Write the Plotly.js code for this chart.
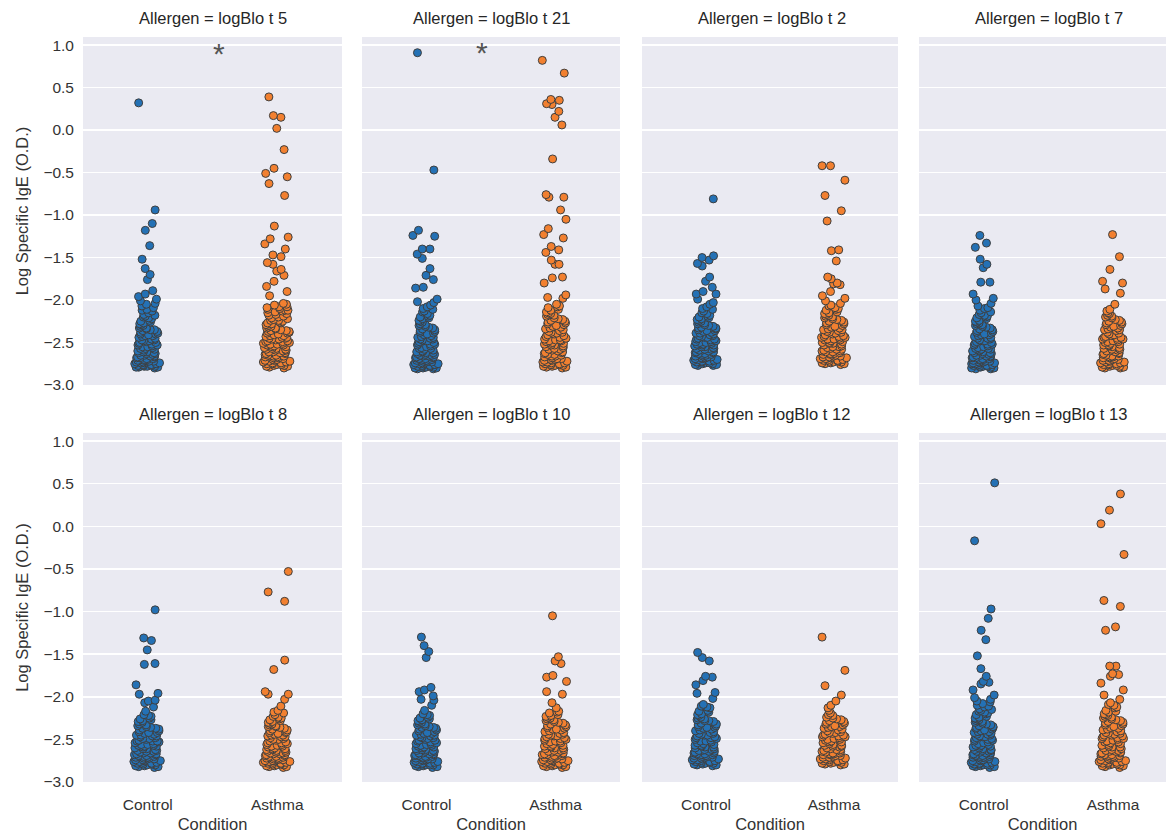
<!DOCTYPE html>
<html>
<head>
<meta charset="utf-8">
<script src="https://cdn.plot.ly/plotly-3.0.1.min.js"></script>
<style>html,body{margin:0;padding:0;background:#fff;}#chart{width:1166px;height:835px;}</style>
</head>
<body>
<div id="chart"></div>
<script>
// ---------- DATA ----------
const allergens = ['logBlo t 5', 'logBlo t 21', 'logBlo t 2', 'logBlo t 7',
                   'logBlo t 8', 'logBlo t 10', 'logBlo t 12', 'logBlo t 13'];
const conditions = ['Control', 'Asthma'];
const yTicks = [-3.0, -2.5, -2.0, -1.5, -1.0, -0.5, 0.0, 0.5, 1.0];

const t5_control = [0.32,-0.94,-1.10,-1.18,-1.36,-1.52,-1.63,-1.70,-1.76,-1.89,
 -1.93,-1.96,-1.99,-2.01,-2.04,-2.05,-2.09,-2.12,-2.13,-2.17,-2.19,-2.22,-2.24,-2.27,-2.29,-2.30,-2.33,-2.35,-2.36,-2.39,
 -2.40,-2.42,-2.44,-2.45,-2.47,-2.48,-2.50,-2.52,-2.53,-2.54,-2.56,-2.57,-2.58,-2.60,-2.61,-2.62,-2.63,-2.64,-2.66,-2.66,
 -2.67,-2.68,-2.69,-2.70,-2.71,-2.72,-2.72,-2.73,-2.74,-2.75,-2.75,-2.76,-2.77,-2.77,-2.78,-2.79,-2.79,-2.80,-2.46,-2.51,
 -2.57,-2.63,-2.68,-2.71,-2.73,-2.76,-2.78,-2.34,-2.41,-2.55,-2.61,-2.65,-2.69,-2.74,-2.77,-2.79,-2.26,-2.48,-2.59,-2.65,
 -2.72,-2.38,-2.55,-2.67,-2.74,-2.62,-2.70,-2.78,
 -2.07,-2.11,-2.15,-2.18,-2.21,-2.25,-2.28,-2.31,-2.33,-2.37,-2.40,-2.43,-2.47,-2.50,-2.53,-2.20,-2.35,-2.42,-2.49];
const t5_asthma = [0.39,0.17,0.15,0.02,-0.23,-0.45,-0.51,-0.55,-0.63,-0.77,-1.13,-1.26,-1.28,-1.34,-1.40,-1.47,-1.49,-1.56,
 -1.58,-1.64,-1.66,-1.71,-1.78,-1.84,-1.90,-1.95,
 -2.04,-2.06,-2.08,-2.09,-2.11,-2.13,-2.14,-2.16,-2.18,-2.21,-2.22,-2.24,-2.26,-2.27,-2.29,-2.31,-2.33,-2.34,-2.36,-2.37,
 -2.39,-2.40,-2.42,-2.43,-2.45,-2.46,-2.47,-2.49,-2.50,-2.51,-2.52,-2.53,-2.55,-2.56,-2.57,-2.58,-2.59,-2.60,-2.61,-2.62,
 -2.63,-2.64,-2.65,-2.66,-2.67,-2.68,-2.69,-2.70,-2.71,-2.72,-2.73,-2.74,-2.75,-2.76,-2.77,-2.78,-2.79,-2.10,-2.19,-2.28,
 -2.35,-2.44,-2.48,-2.54,-2.59,-2.63,-2.66,-2.70,-2.74,-2.77,-2.80,-2.15,-2.32,-2.41,-2.52,-2.57,-2.62,-2.68,-2.72,-2.76,
 -2.25,-2.38,-2.49,-2.55,-2.61,-2.65,-2.71,-2.75,-2.78,-2.46,-2.58,-2.67,-2.73,
 -2.05,-2.08,-2.12,-2.17,-2.20,-2.23,-2.27,-2.30,-2.33,-2.36,-2.39,-2.42,-2.45,-2.48,-2.51,-2.12,-2.24,-2.37,-2.44,-2.53];

const t21_control = [0.91,-0.47,-1.18,-1.24,-1.25,-1.40,-1.40,-1.46,-1.51,-1.63,-1.71,-1.76,-1.85,-1.86,-1.99,-2.02,-2.03,
 -2.08,-2.11,-2.13,-2.16,-2.19,-2.21,-2.24,-2.26,-2.29,-2.31,-2.33,-2.36,-2.38,-2.40,-2.42,-2.43,-2.45,-2.47,-2.48,-2.50,
 -2.51,-2.53,-2.54,-2.56,-2.57,-2.58,-2.60,-2.61,-2.62,-2.63,-2.64,-2.65,-2.66,-2.67,-2.68,-2.69,-2.70,-2.71,-2.72,-2.73,
 -2.74,-2.75,-2.76,-2.77,-2.78,-2.79,-2.80,-2.81,-2.44,-2.52,-2.59,-2.64,-2.68,-2.72,-2.75,-2.78,-2.80,-2.35,-2.49,-2.55,
 -2.62,-2.66,-2.70,-2.74,-2.77,-2.79,-2.57,-2.65,-2.71,-2.76,-2.81,-2.46,-2.61,-2.69,-2.73,-2.78,-2.67,-2.75,-2.80,
 -2.06,-2.10,-2.14,-2.18,-2.22,-2.25,-2.28,-2.32,-2.34,-2.37,-2.41,-2.44,-2.48,-2.52,-2.20,-2.30,-2.39,-2.46];
const t21_asthma = [0.82,0.67,0.36,0.35,0.31,0.30,0.22,0.15,0.06,-0.34,-0.76,-0.79,-0.79,-0.94,-1.05,-1.16,-1.23,-1.27,
 -1.37,-1.41,-1.44,-1.53,-1.58,-1.58,-1.73,-1.74,-1.80,-1.94,-1.97,-1.98,-2.07,
 -2.05,-2.09,-2.12,-2.14,-2.17,-2.19,-2.22,-2.23,-2.25,-2.28,-2.30,-2.32,-2.34,-2.35,-2.37,-2.39,-2.41,-2.43,-2.44,-2.46,
 -2.47,-2.49,-2.50,-2.52,-2.53,-2.54,-2.56,-2.57,-2.58,-2.59,-2.61,-2.62,-2.63,-2.64,-2.65,-2.66,-2.67,-2.68,-2.69,-2.70,
 -2.71,-2.72,-2.73,-2.74,-2.75,-2.76,-2.77,-2.78,-2.79,-2.80,-2.26,-2.38,-2.48,-2.55,-2.60,-2.66,-2.71,-2.74,-2.77,-2.79,
 -2.42,-2.51,-2.58,-2.64,-2.69,-2.73,-2.76,-2.78,-2.53,-2.62,-2.70,-2.75,
 -2.08,-2.11,-2.15,-2.18,-2.21,-2.24,-2.27,-2.31,-2.33,-2.36,-2.40,-2.45,-2.48,-2.51,-2.16,-2.29,-2.38,-2.47];

const t2_control = [-0.81,-1.48,-1.50,-1.53,-1.57,-1.60,-1.73,-1.78,-1.85,-1.90,-1.93,-1.93,-1.99,-2.03,-2.05,
 -2.08,-2.10,-2.13,-2.15,-2.18,-2.20,-2.22,-2.25,-2.27,-2.29,-2.31,-2.33,-2.34,-2.36,-2.38,-2.39,-2.41,-2.42,-2.44,-2.45,
 -2.46,-2.48,-2.49,-2.50,-2.51,-2.53,-2.54,-2.55,-2.56,-2.57,-2.58,-2.59,-2.60,-2.61,-2.62,-2.63,-2.64,-2.65,-2.66,-2.67,
 -2.68,-2.69,-2.70,-2.71,-2.72,-2.73,-2.74,-2.75,-2.76,-2.77,-2.40,-2.47,-2.52,-2.57,-2.61,-2.64,-2.67,-2.70,-2.73,-2.75,
 -2.32,-2.44,-2.53,-2.59,-2.63,-2.68,-2.72,-2.74,-2.77,-2.50,-2.58,-2.66,-2.71,-2.76,-2.23,-2.37,-2.55,-2.62,-2.69,
 -2.11,-2.16,-2.19,-2.24,-2.26,-2.30,-2.33,-2.35,-2.39,-2.42,-2.46,-2.49,-2.52,-2.21,-2.28,-2.36,-2.43];
const t2_asthma = [-0.42,-0.42,-0.59,-0.77,-0.95,-1.07,-1.41,-1.42,-1.54,-1.73,-1.75,-1.80,-1.81,-1.82,-1.90,-1.95,-1.98,
 -2.01,-2.04,-2.06,-2.09,-2.11,-2.14,-2.16,-2.18,-2.21,-2.23,-2.25,-2.27,-2.29,-2.31,-2.33,-2.35,-2.36,-2.38,-2.40,-2.41,
 -2.43,-2.44,-2.46,-2.47,-2.49,-2.50,-2.51,-2.53,-2.54,-2.55,-2.56,-2.58,-2.59,-2.60,-2.61,-2.62,-2.63,-2.64,-2.65,-2.66,
 -2.67,-2.68,-2.69,-2.70,-2.71,-2.72,-2.73,-2.74,-2.75,-2.76,-2.12,-2.26,-2.37,-2.45,-2.52,-2.57,-2.63,-2.67,-2.70,-2.73,
 -2.75,-2.30,-2.42,-2.48,-2.55,-2.61,-2.66,-2.69,-2.72,-2.19,-2.39,-2.51,-2.58,-2.64,-2.71,-2.74,-2.47,-2.60,-2.68,
 -2.07,-2.10,-2.15,-2.20,-2.24,-2.28,-2.32,-2.34,-2.38,-2.43,-2.46,-2.50,-2.17,-2.22,-2.35,-2.44];

const t7_control = [-1.24,-1.33,-1.38,-1.52,-1.58,-1.62,-1.79,-1.79,-1.93,-1.98,-2.00,-2.04,
 -2.07,-2.10,-2.12,-2.15,-2.17,-2.20,-2.22,-2.24,-2.27,-2.29,-2.31,-2.33,-2.35,-2.37,-2.39,-2.41,-2.43,-2.44,-2.46,-2.47,
 -2.49,-2.50,-2.52,-2.53,-2.55,-2.56,-2.57,-2.58,-2.60,-2.61,-2.62,-2.63,-2.64,-2.65,-2.66,-2.67,-2.68,-2.69,-2.70,-2.71,
 -2.72,-2.73,-2.74,-2.75,-2.76,-2.77,-2.78,-2.79,-2.80,-2.81,-2.45,-2.54,-2.59,-2.63,-2.67,-2.70,-2.73,-2.76,-2.78,-2.80,
 -2.36,-2.48,-2.57,-2.62,-2.66,-2.71,-2.74,-2.77,-2.79,-2.51,-2.60,-2.68,-2.72,-2.75,-2.81,-2.26,-2.42,-2.58,-2.65,-2.69,
 -2.74,-2.78,
 -2.09,-2.14,-2.18,-2.21,-2.25,-2.28,-2.32,-2.34,-2.38,-2.40,-2.45,-2.48,-2.52,-2.19,-2.30,-2.41];
const t7_asthma = [-1.23,-1.49,-1.64,-1.78,-1.80,-1.87,-1.92,-2.05,-2.11,-2.13,
 -2.15,-2.18,-2.20,-2.23,-2.25,-2.27,-2.30,-2.32,-2.34,-2.36,-2.38,-2.40,-2.42,-2.43,-2.45,-2.47,-2.48,-2.50,-2.51,-2.53,
 -2.54,-2.55,-2.57,-2.58,-2.59,-2.60,-2.62,-2.63,-2.64,-2.65,-2.66,-2.67,-2.68,-2.69,-2.70,-2.71,-2.72,-2.73,-2.74,-2.75,
 -2.76,-2.77,-2.78,-2.79,-2.80,-2.44,-2.52,-2.58,-2.63,-2.67,-2.71,-2.74,-2.77,-2.79,-2.35,-2.49,-2.56,-2.61,-2.66,-2.70,
 -2.73,-2.76,-2.78,-2.28,-2.46,-2.60,-2.68,-2.75,-2.80,
 -2.16,-2.21,-2.24,-2.29,-2.31,-2.35,-2.39,-2.41,-2.46,-2.49,-2.53,-2.19,-2.26,-2.33,-2.44];

const t8_control = [-0.98,-1.31,-1.34,-1.45,-1.61,-1.62,-1.86,-1.96,-1.97,-2.04,-2.05,-2.07,
 -2.12,-2.17,-2.21,-2.23,-2.26,-2.28,-2.30,-2.32,-2.34,-2.36,-2.38,-2.40,-2.42,-2.43,-2.45,-2.46,-2.48,-2.49,-2.51,-2.52,
 -2.53,-2.55,-2.56,-2.57,-2.58,-2.59,-2.61,-2.62,-2.63,-2.64,-2.65,-2.66,-2.67,-2.68,-2.69,-2.70,-2.71,-2.72,-2.73,-2.74,
 -2.75,-2.76,-2.77,-2.78,-2.79,-2.80,-2.81,-2.82,-2.83,-2.44,-2.50,-2.57,-2.61,-2.66,-2.69,-2.72,-2.75,-2.78,-2.80,-2.37,
 -2.47,-2.54,-2.60,-2.64,-2.68,-2.71,-2.74,-2.77,-2.79,-2.81,-2.58,-2.63,-2.70,-2.73,-2.76,-2.29,-2.41,-2.52,-2.67,-2.82,
 -2.22,-2.25,-2.29,-2.33,-2.35,-2.39,-2.42,-2.46,-2.49,-2.52,-2.56,-2.27,-2.37,-2.45];
const t8_asthma = [-0.53,-0.77,-0.88,-1.57,-1.68,-1.94,-1.97,-1.97,-2.03,-2.11,
 -2.16,-2.19,-2.21,-2.24,-2.26,-2.28,-2.30,-2.32,-2.34,-2.36,-2.38,-2.40,-2.41,-2.43,-2.45,-2.46,-2.48,-2.49,-2.51,-2.52,
 -2.53,-2.55,-2.56,-2.57,-2.58,-2.60,-2.61,-2.62,-2.63,-2.64,-2.65,-2.66,-2.67,-2.68,-2.69,-2.70,-2.71,-2.72,-2.73,-2.74,
 -2.75,-2.76,-2.77,-2.78,-2.79,-2.80,-2.81,-2.82,-2.83,-2.44,-2.50,-2.56,-2.61,-2.65,-2.69,-2.72,-2.75,-2.77,-2.79,-2.81,
 -2.35,-2.47,-2.54,-2.59,-2.63,-2.67,-2.71,-2.74,-2.76,-2.78,-2.80,-2.27,-2.42,-2.58,-2.66,-2.70,-2.73,-2.77,-2.82,-2.62,
 -2.68,-2.75,
 -2.18,-2.23,-2.25,-2.29,-2.31,-2.35,-2.39,-2.42,-2.47,-2.50,-2.54,-2.33,-2.37,-2.45];

const t10_control = [-1.30,-1.40,-1.47,-1.54,-1.89,-1.92,-1.94,-1.99,-2.03,-2.04,-2.10,-2.16,
 -2.20,-2.22,-2.25,-2.27,-2.29,-2.31,-2.33,-2.35,-2.37,-2.39,-2.41,-2.42,-2.44,-2.46,-2.47,-2.49,-2.50,-2.52,-2.53,-2.54,
 -2.56,-2.57,-2.58,-2.59,-2.61,-2.62,-2.63,-2.64,-2.65,-2.66,-2.67,-2.68,-2.69,-2.70,-2.71,-2.72,-2.73,-2.74,-2.75,-2.76,
 -2.77,-2.78,-2.79,-2.80,-2.81,-2.82,-2.83,-2.43,-2.51,-2.57,-2.62,-2.66,-2.69,-2.72,-2.75,-2.78,-2.80,-2.82,-2.36,-2.48,
 -2.55,-2.60,-2.64,-2.68,-2.71,-2.74,-2.77,-2.79,-2.81,-2.30,-2.45,-2.59,-2.67,-2.73,-2.76,-2.80,-2.63,-2.70,
 -2.21,-2.24,-2.28,-2.32,-2.34,-2.38,-2.40,-2.45,-2.48,-2.51,-2.55,-2.26,-2.36,-2.43];
const t10_asthma = [-1.05,-1.53,-1.58,-1.61,-1.75,-1.77,-1.82,-1.94,-1.97,-2.07,-2.13,-2.23,-2.30,
 -2.17,-2.19,-2.21,-2.24,-2.26,-2.28,-2.32,-2.34,-2.36,-2.38,-2.40,-2.42,-2.43,-2.45,-2.47,-2.48,-2.50,-2.51,-2.53,-2.54,
 -2.55,-2.57,-2.58,-2.59,-2.60,-2.62,-2.63,-2.64,-2.65,-2.66,-2.67,-2.68,-2.69,-2.70,-2.71,-2.72,-2.73,-2.74,-2.75,-2.76,
 -2.77,-2.78,-2.79,-2.80,-2.81,-2.82,-2.83,-2.44,-2.52,-2.58,-2.63,-2.67,-2.70,-2.73,-2.76,-2.78,-2.80,-2.37,-2.49,-2.56,
 -2.61,-2.65,-2.69,-2.72,-2.75,-2.79,-2.81,-2.29,-2.46,-2.60,-2.68,-2.74,-2.77,-2.82,
 -2.18,-2.22,-2.25,-2.27,-2.31,-2.35,-2.39,-2.41,-2.46,-2.49,-2.52,-2.33,-2.38,-2.44];

const t12_control = [-1.48,-1.54,-1.58,-1.76,-1.77,-1.81,-1.86,-1.95,-1.96,-2.02,-2.16,
 -2.09,-2.11,-2.13,-2.18,-2.20,-2.22,-2.25,-2.27,-2.29,-2.31,-2.33,-2.35,-2.37,-2.39,-2.41,-2.42,-2.44,-2.46,-2.47,-2.49,
 -2.50,-2.52,-2.53,-2.54,-2.56,-2.57,-2.58,-2.59,-2.61,-2.62,-2.63,-2.64,-2.65,-2.66,-2.67,-2.68,-2.69,-2.70,-2.71,-2.72,
 -2.73,-2.74,-2.75,-2.76,-2.77,-2.78,-2.79,-2.80,-2.81,-2.43,-2.51,-2.57,-2.62,-2.66,-2.69,-2.72,-2.75,-2.78,-2.80,-2.36,
 -2.48,-2.55,-2.60,-2.64,-2.68,-2.71,-2.74,-2.77,-2.79,-2.28,-2.45,-2.59,-2.67,-2.73,-2.76,-2.63,-2.70,
 -2.12,-2.17,-2.21,-2.24,-2.28,-2.32,-2.34,-2.38,-2.40,-2.45,-2.48,-2.52,-2.26,-2.36,-2.43];
const t12_asthma = [-1.30,-1.69,-1.87,-1.98,-2.05,-2.13,-2.19,
 -2.22,-2.24,-2.26,-2.28,-2.30,-2.32,-2.34,-2.36,-2.38,-2.40,-2.41,-2.43,-2.45,-2.46,-2.48,-2.49,-2.51,-2.52,-2.53,-2.55,
 -2.56,-2.57,-2.58,-2.60,-2.61,-2.62,-2.63,-2.64,-2.65,-2.66,-2.67,-2.68,-2.69,-2.70,-2.71,-2.72,-2.73,-2.74,-2.75,-2.76,
 -2.77,-2.78,-2.79,-2.80,-2.44,-2.50,-2.57,-2.62,-2.66,-2.69,-2.72,-2.75,-2.77,-2.79,-2.35,-2.47,-2.54,-2.59,-2.64,-2.68,
 -2.71,-2.74,-2.76,-2.78,-2.27,-2.42,-2.58,-2.67,-2.73,
 -2.10,-2.16,-2.21,-2.25,-2.29,-2.31,-2.35,-2.39,-2.42,-2.47,-2.50,-2.53,-2.33,-2.37,-2.45];

const t13_control = [0.51,-0.17,-0.97,-1.08,-1.22,-1.33,-1.52,-1.67,-1.76,-1.82,-1.83,-1.85,-1.92,-1.98,-2.06,-2.15,
 -2.01,-2.03,-2.08,-2.10,-2.12,-2.14,-2.17,-2.19,-2.21,-2.23,-2.25,-2.27,-2.29,-2.31,-2.33,-2.35,-2.37,-2.38,-2.40,-2.42,
 -2.43,-2.45,-2.46,-2.48,-2.49,-2.51,-2.52,-2.53,-2.55,-2.56,-2.57,-2.58,-2.60,-2.61,-2.62,-2.63,-2.64,-2.65,-2.66,-2.67,
 -2.68,-2.69,-2.70,-2.71,-2.72,-2.73,-2.74,-2.75,-2.76,-2.77,-2.78,-2.79,-2.80,-2.81,-2.82,-2.83,-2.44,-2.50,-2.57,-2.62,
 -2.66,-2.69,-2.72,-2.75,-2.78,-2.80,-2.82,-2.36,-2.47,-2.54,-2.59,-2.64,-2.68,-2.71,-2.74,-2.77,-2.79,-2.81,-2.30,-2.41,
 -2.58,-2.63,-2.70,-2.76,-2.80,
 -2.05,-2.11,-2.16,-2.20,-2.24,-2.28,-2.32,-2.34,-2.39,-2.41,-2.47,-2.50,-2.18,-2.26,-2.36,-2.44];
const t13_asthma = [0.38,0.19,0.03,-0.33,-0.87,-0.94,-1.18,-1.22,-1.64,-1.64,-1.73,-1.74,-1.76,-1.84,-1.92,-1.98,-2.03,
 -2.07,-2.10,-2.13,-2.16,-2.18,-2.21,-2.23,-2.25,-2.27,-2.29,-2.31,-2.33,-2.35,-2.37,-2.39,-2.41,-2.42,-2.44,-2.45,-2.47,
 -2.48,-2.50,-2.51,-2.53,-2.54,-2.55,-2.57,-2.58,-2.59,-2.60,-2.62,-2.63,-2.64,-2.65,-2.66,-2.67,-2.68,-2.69,-2.70,-2.71,
 -2.72,-2.73,-2.74,-2.75,-2.76,-2.77,-2.78,-2.79,-2.80,-2.81,-2.82,-2.83,-2.43,-2.49,-2.56,-2.61,-2.66,-2.69,-2.72,-2.75,
 -2.78,-2.80,-2.36,-2.46,-2.53,-2.59,-2.64,-2.68,-2.71,-2.74,-2.77,-2.79,-2.81,-2.28,-2.52,-2.63,-2.70,-2.76,
 -2.09,-2.12,-2.17,-2.20,-2.24,-2.26,-2.30,-2.34,-2.38,-2.40,-2.45,-2.49,-2.22,-2.32,-2.43];

const controlValues = [t5_control, t21_control, t2_control, t7_control, t8_control, t10_control, t12_control, t13_control];
const asthmaValues  = [t5_asthma, t21_asthma, t2_asthma, t7_asthma, t8_asthma, t10_asthma, t12_asthma, t13_asthma];

// significance markers: [panel index, x position (category units), y value]
const starPanels = [0, 1];
const starX = [0.55, 0.43];
const starY = [0.94, 0.95];

// ---------- STYLE / LAYOUT ----------
const W = 1166, H = 835;
const colPx = [[83, 342], [362, 620], [642, 898], [919, 1166]];
const rowPx = [[37, 385], [433, 782]];
const xRanges = [[-0.5, 1.5], [-0.5, 1.5], [-0.5, 1.5], [-0.5, 1.41]];
const colors = ['#2471b5', '#f28030'];
const edge = '#3f3f3f';
const font = '"Liberation Sans", Arial, "DejaVu Sans", sans-serif';
// value bands drawn as separate strip traces so that Plotly's jitter
// spreads sparse upper points as evenly as the dense lower cluster
const bandEdges = [-2.05, -1.0];

const data = [];
const layout = {
  width: W, height: H,
  margin: {l: 0, r: 0, t: 0, b: 0, pad: 0},
  paper_bgcolor: '#ffffff',
  plot_bgcolor: '#eaeaf2',
  showlegend: false,
  font: {family: font, size: 15, color: '#333333'},
  boxmode: 'overlay',
  annotations: []
};

function bandOf(v) {
  let b = 0;
  bandEdges.forEach(e => { if (v > e) b++; });
  return b;
}

for (let p = 0; p < 8; p++) {
  const r = Math.floor(p / 4), c = p % 4;
  const xa = p === 0 ? 'x' : 'x' + (p + 1);
  const ya = p === 0 ? 'y' : 'y' + (p + 1);
  const xkey = p === 0 ? 'xaxis' : 'xaxis' + (p + 1);
  const ykey = p === 0 ? 'yaxis' : 'yaxis' + (p + 1);
  const groups = [controlValues[p], asthmaValues[p]];
  groups.forEach((vals, k) => {
    for (let b = 0; b <= bandEdges.length; b++) {
      const sub = vals.filter(v => bandOf(v) === b);
      if (!sub.length) continue;
      data.push({
        type: 'box',
        x0: conditions[k],
        y: sub,
        xaxis: xa, yaxis: ya,
        name: conditions[k],
        boxpoints: 'all',
        jitter: 1,
        pointpos: 0,
        width: 0.22,
        fillcolor: 'rgba(0,0,0,0)',
        line: {color: 'rgba(0,0,0,0)', width: 0},
        whiskerwidth: 0,
        marker: {color: colors[k], size: 8, opacity: 1, line: {color: edge, width: 1}},
        hoverinfo: 'y'
      });
    }
  });
  layout[xkey] = {
    domain: [colPx[c][0] / W, colPx[c][1] / W],
    anchor: ya,
    type: 'category',
    categoryorder: 'array',
    categoryarray: conditions,
    range: xRanges[c],
    showgrid: false, zeroline: false, showline: false,
    ticks: '', ticklabelstandoff: 11,
    showticklabels: r === 1,
    tickfont: {size: 15.5, color: '#333333'},
    title: r === 1 ? {text: 'Condition', font: {size: 16.5, color: '#333333'}, standoff: 6} : {text: ''},
    fixedrange: true
  };
  layout[ykey] = {
    domain: [1 - rowPx[r][1] / H, 1 - rowPx[r][0] / H],
    anchor: xa,
    range: [-3.0, 1.095],
    tickvals: yTicks,
    tickformat: '.1f',
    showgrid: true, gridcolor: '#ffffff', gridwidth: 1.5,
    zeroline: false, showline: false,
    ticks: '', ticklabelstandoff: 8,
    showticklabels: c === 0,
    tickfont: {size: 15.5, color: '#333333'},
    title: c === 0 ? {text: 'Log Specific IgE (O.D.)', font: {size: 16.5, color: '#333333'}, standoff: 10} : {text: ''},
    fixedrange: true
  };
  layout.annotations.push({
    xref: 'paper', yref: 'paper',
    x: (colPx[c][0] + 129.5) / W,
    y: 1 - (rowPx[r][0] - 19) / H,
    text: 'Allergen = ' + allergens[p],
    showarrow: false, xanchor: 'center', yanchor: 'middle',
    font: {size: 16.5, color: '#262626', family: font}
  });
}

starPanels.forEach((p, i) => {
  layout.annotations.push({
    xref: p === 0 ? 'x' : 'x' + (p + 1),
    yref: p === 0 ? 'y' : 'y' + (p + 1),
    x: starX[i], y: starY[i],
    text: '*', showarrow: false,
    xanchor: 'center', yanchor: 'middle', yshift: -3,
    font: {size: 30, color: '#555555', family: font}
  });
});

Plotly.newPlot('chart', data, layout, {displayModeBar: false, staticPlot: true});
</script>
</body>
</html>
